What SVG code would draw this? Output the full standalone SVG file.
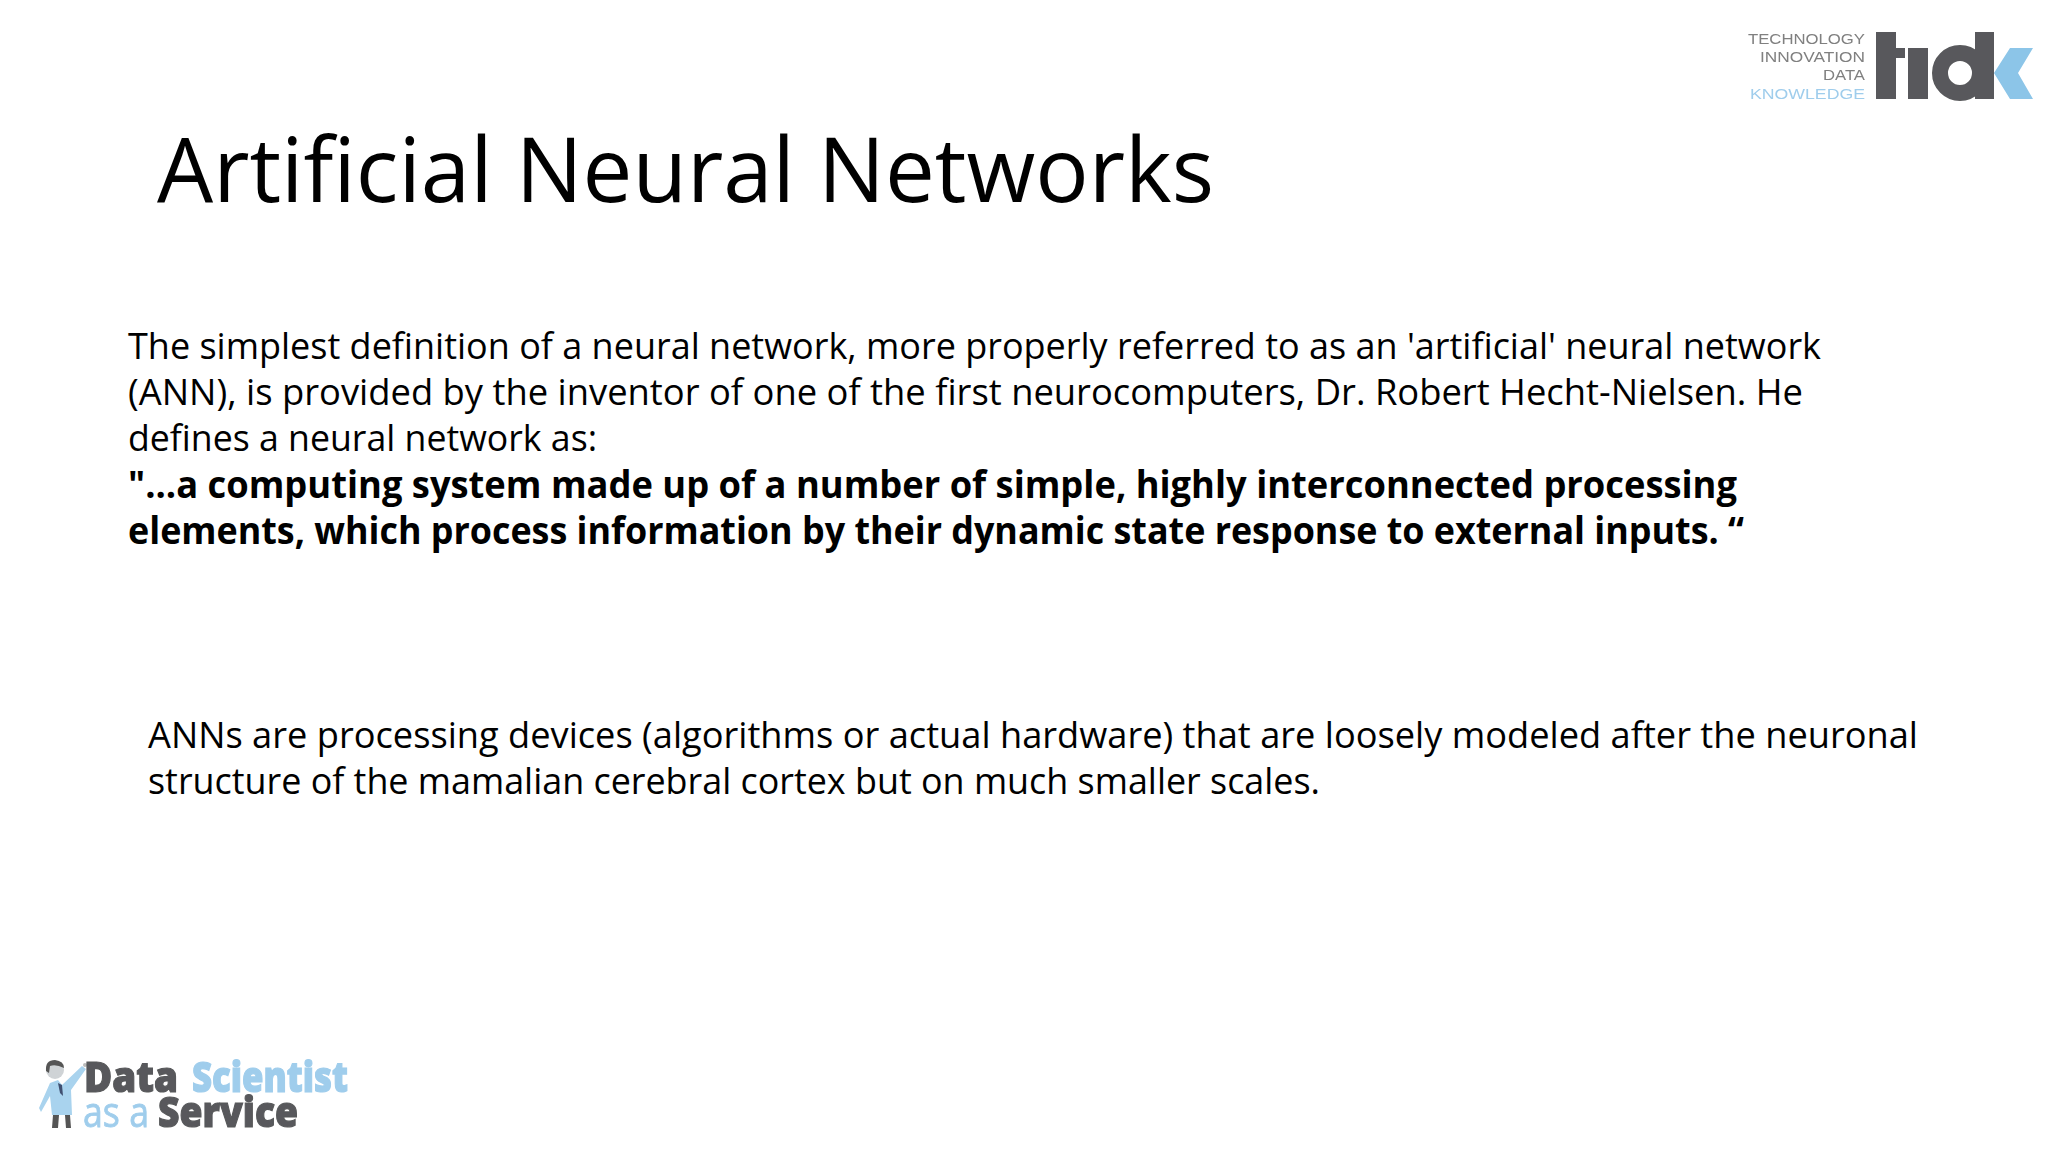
<svg xmlns="http://www.w3.org/2000/svg" width="2048" height="1152" viewBox="0 0 2048 1152">
<defs>
<filter id="soft" x="-5%" y="-5%" width="110%" height="110%"><feGaussianBlur stdDeviation="0.6"/></filter>
</defs>
<style>
text{font-family:"Open Sans","Noto Sans","Liberation Sans",sans-serif;fill:#000}
.b{font-size:37px}
.h{font-size:37px;font-weight:700}
.l{font-family:"Liberation Sans",sans-serif;font-size:15.5px;fill:#808080;text-anchor:end;font-weight:400}
.dk{fill:#58595b}
.bl{fill:#8cc5e8}
.d1{font-weight:800;font-size:42px;fill:#58595b;stroke:#58595b;stroke-width:1.2px}
.d2{font-weight:800;font-size:42px;fill:#9fcdec;stroke:#9fcdec;stroke-width:1.2px}
.d3{font-weight:400;font-size:42px;fill:#9fcdec;stroke:#9fcdec;stroke-width:0.8px}
</style>
<rect width="2048" height="1152" fill="#fff"/>
<g id="title"><text x="157" y="202" font-size="90" textLength="1057" lengthAdjust="spacingAndGlyphs">Artificial Neural Networks</text></g>
<g id="definition">
<text class="b" x="128" y="359" textLength="1693" lengthAdjust="spacingAndGlyphs">The simplest definition of a neural network, more properly referred to as an 'artificial' neural network</text>
<text class="b" x="128" y="405" textLength="1675" lengthAdjust="spacingAndGlyphs">(ANN), is provided by the inventor of one of the first neurocomputers, Dr. Robert Hecht-Nielsen. He</text>
<text class="b" x="128" y="451" textLength="469" lengthAdjust="spacingAndGlyphs">defines a neural network as:</text>
<text class="h" x="128" y="498" textLength="1609" lengthAdjust="spacingAndGlyphs">"...a computing system made up of a number of simple, highly interconnected processing</text>
<text class="h" x="128" y="544" textLength="1616" lengthAdjust="spacingAndGlyphs">elements, which process information by their dynamic state response to external inputs. “</text>
</g>
<g id="description">
<text class="b" x="148" y="748" textLength="1770" lengthAdjust="spacingAndGlyphs">ANNs are processing devices (algorithms or actual hardware) that are loosely modeled after the neuronal</text>
<text class="b" x="148" y="794" textLength="1172" lengthAdjust="spacingAndGlyphs">structure of the mamalian cerebral cortex but on much smaller scales.</text>
</g>
<g id="logo-tidk" filter="url(#soft)">
<text class="l" x="1865" y="44" textLength="117" lengthAdjust="spacingAndGlyphs">TECHNOLOGY</text>
<text class="l" x="1865" y="62" textLength="105" lengthAdjust="spacingAndGlyphs">INNOVATION</text>
<text class="l" x="1865" y="80" textLength="42" lengthAdjust="spacingAndGlyphs">DATA</text>
<text class="l" x="1865" y="99" textLength="115" lengthAdjust="spacingAndGlyphs" style="fill:#9fcdec">KNOWLEDGE</text>
<rect class="dk" x="1876" y="32" width="20" height="67"/>
<rect class="dk" x="1896" y="48" width="9" height="10"/>
<rect class="dk" x="1908" y="48" width="20" height="51"/>
<circle cx="1960" cy="73" r="20" fill="none" stroke="#58595b" stroke-width="16"/>
<rect class="dk" x="1975" y="32" width="19" height="67"/>
<polygon class="bl" points="1994,73 2010,48 2033,48 2018,73 2033,99 2010,99"/>
</g>
<g id="logo-dsaas" filter="url(#soft)">
<path d="M50 1083 L58 1080 L62 1085 L82 1066 L86 1069 L71 1090 L72 1115 L52 1115 L50 1096 L41 1112 L39 1108 Z" fill="#a9d3ee"/>
<path d="M58 1083 L62 1085 L63 1096 L60 1093 Z" fill="#3f4f70"/>
<path d="M53 1115 H59 L58 1128 H52 Z M65 1115 H70 L71 1128 H66 Z" fill="#555"/>
<circle cx="55" cy="1070" r="9" fill="#cfd3d6"/>
<path d="M46 1071 Q45 1060 55 1060 Q64 1061 64 1068 Q56 1064 50 1066 L49 1073 Z" fill="#555"/>
<circle cx="85" cy="1065" r="2" fill="#bbb"/>
<text class="d1" x="84" y="1092" textLength="94" lengthAdjust="spacingAndGlyphs">Data</text>
<text class="d2" x="192" y="1092" textLength="156" lengthAdjust="spacingAndGlyphs">Scientist</text>
<text class="d3" x="83" y="1127" textLength="66" lengthAdjust="spacingAndGlyphs">as a</text>
<text class="d1" x="158" y="1127" textLength="140" lengthAdjust="spacingAndGlyphs">Service</text>
</g>
</svg>
